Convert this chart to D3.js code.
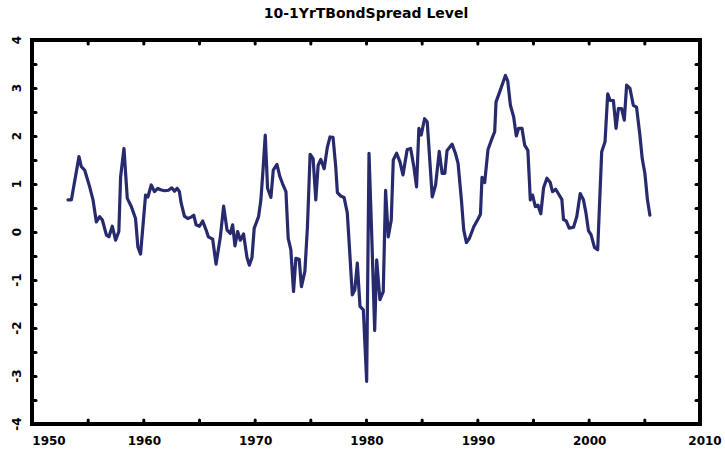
<!DOCTYPE html>
<html>
<head>
<meta charset="utf-8">
<script src="https://cdn.jsdelivr.net/npm/d3@7"></script>
<style>
  body { margin: 0; background: #fff; }
  svg text { font-family: "DejaVu Sans", sans-serif; font-weight: bold; fill: #000; }
</style>
</head>
<body>
<div id="chart"></div>
<script>
// Quarterly-ish readings of the 10-1 year T-bond spread (decimal year, level)
const years = [
  1953.23, 1953.54, 1954.22, 1954.43, 1954.73, 1955.18, 1955.48, 1955.78, 1956.08, 1956.32,
  1956.68, 1956.91, 1957.21, 1957.51, 1957.80, 1957.96, 1958.26, 1958.56, 1958.92, 1959.30,
  1959.51, 1959.75, 1959.96, 1960.20, 1960.41, 1960.71, 1961.00, 1961.30, 1961.54, 1961.90,
  1962.26, 1962.55, 1962.80, 1963.04, 1963.24, 1963.40, 1963.69, 1963.99, 1964.29, 1964.53,
  1964.74, 1965.04, 1965.33, 1965.64, 1965.84, 1966.23, 1966.53, 1966.92, 1967.21, 1967.52,
  1967.81, 1968.02, 1968.23, 1968.47, 1968.71, 1969.00, 1969.31, 1969.52, 1969.76, 1969.96,
  1970.35, 1970.56, 1970.77, 1970.95, 1971.16, 1971.46, 1971.67, 1972.00, 1972.27, 1972.50,
  1972.81, 1973.01, 1973.25, 1973.49, 1973.70, 1974.00, 1974.20, 1974.51, 1974.74, 1974.98,
  1975.25, 1975.49, 1975.70, 1975.94, 1976.24, 1976.53, 1976.77, 1977.04, 1977.28, 1977.43,
  1977.73, 1978.03, 1978.32, 1978.48, 1978.77, 1978.99, 1979.22, 1979.46, 1979.76, 1980.06,
  1980.27, 1980.51, 1980.78, 1980.96, 1981.25, 1981.55, 1981.76, 1982.00, 1982.27, 1982.45,
  1982.75, 1983.05, 1983.32, 1983.70, 1984.01, 1984.30, 1984.54, 1984.75, 1984.96, 1985.26,
  1985.50, 1985.95, 1986.25, 1986.58, 1986.84, 1987.08, 1987.28, 1987.73, 1988.03, 1988.27,
  1988.57, 1988.78, 1989.02, 1989.29, 1989.68, 1990.04, 1990.28, 1990.42, 1990.66, 1990.96,
  1991.32, 1991.56, 1991.68, 1992.01, 1992.31, 1992.52, 1992.73, 1992.97, 1993.26, 1993.50,
  1993.71, 1994.01, 1994.25, 1994.54, 1994.76, 1994.96, 1995.21, 1995.44, 1995.70, 1995.95,
  1996.25, 1996.55, 1996.75, 1997.04, 1997.35, 1997.59, 1997.74, 1997.98, 1998.25, 1998.64,
  1998.93, 1999.24, 1999.53, 1999.74, 1999.98, 2000.22, 2000.52, 2000.81, 2001.17, 2001.47,
  2001.71, 2001.93, 2002.22, 2002.46, 2002.67, 2002.96, 2003.20, 2003.41, 2003.71, 2004.01,
  2004.30, 2004.60, 2004.81, 2005.05, 2005.28, 2005.50
];
const spread = [
  0.67, 0.67, 1.57, 1.36, 1.29, 0.94, 0.67, 0.21, 0.32, 0.25,
  -0.06, -0.10, 0.12, -0.17, 0.01, 1.15, 1.74, 0.70, 0.53, 0.28,
  -0.31, -0.46, 0.11, 0.77, 0.73, 0.98, 0.84, 0.91, 0.88, 0.86,
  0.87, 0.92, 0.85, 0.91, 0.84, 0.60, 0.33, 0.28, 0.31, 0.35,
  0.15, 0.12, 0.23, 0.04, -0.10, -0.15, -0.67, -0.10, 0.54, 0.04,
  -0.03, 0.15, -0.29, 0.01, -0.17, -0.04, -0.53, -0.69, -0.53, 0.08,
  0.32, 0.67, 1.36, 2.02, 0.91, 0.72, 1.29, 1.41, 1.15, 1.01,
  0.84, -0.13, -0.37, -1.24, -0.55, -0.57, -1.14, -0.82, 0.11, 1.62,
  1.53, 0.67, 1.39, 1.51, 1.32, 1.77, 1.98, 1.97, 1.36, 0.82,
  0.75, 0.72, 0.40, -0.20, -1.31, -1.21, -0.65, -1.55, -1.62, -3.11,
  1.64, -0.03, -2.05, -0.58, -1.41, -1.24, 0.87, -0.10, 0.25, 1.50,
  1.64, 1.46, 1.19, 1.72, 1.74, 1.36, 0.94, 2.16, 2.02, 2.36,
  2.29, 0.73, 0.98, 1.68, 1.22, 1.22, 1.70, 1.83, 1.64, 1.43,
  0.67, 0.04, -0.22, -0.13, 0.11, 0.26, 0.37, 1.14, 1.03, 1.72,
  1.95, 2.09, 2.71, 2.92, 3.12, 3.26, 3.15, 2.64, 2.40, 2.00,
  2.16, 2.16, 1.81, 1.70, 0.67, 0.77, 0.53, 0.56, 0.38, 0.92,
  1.12, 1.03, 0.84, 0.89, 0.77, 0.68, 0.26, 0.23, 0.08, 0.10,
  0.32, 0.80, 0.67, 0.42, 0.03, -0.06, -0.32, -0.37, 1.67, 1.88,
  2.88, 2.74, 2.74, 2.16, 2.57, 2.57, 2.33, 3.06, 2.99, 2.64,
  2.60, 2.02, 1.53, 1.22, 0.67, 0.35
];
const xTicks = [1950, 1955, 1960, 1965, 1970, 1975, 1980, 1985, 1990, 1995, 2000, 2005, 2010];
const xLabels = [1950, 1960, 1970, 1980, 1990, 2000, 2010];
const yTicks = [-4, -3.5, -3, -2.5, -2, -1.5, -1, -0.5, 0, 0.5, 1, 1.5, 2, 2.5, 3, 3.5, 4];
const yLabels = [-4, -3, -2, -1, 0, 1, 2, 3, 4];
const title = "10-1YrTBondSpread Level";

const margin = { top: 40, right: 25, bottom: 27, left: 32 };
const width = 725 - margin.left - margin.right;
const height = 451 - margin.top - margin.bottom;

const svg = d3.select("#chart")
  .append("svg")
  .attr("width", width + margin.left + margin.right)
  .attr("height", height + margin.top + margin.bottom)
  .append("g")
  .attr("transform", `translate(${margin.left}, ${margin.top})`);

const data = years.map((y, i) => ({ year: y, value: spread[i] }));

// Scales
const xScale = d3.scaleLinear().domain([1950, 2010]).range([0, width]);
const yScale = d3.scaleLinear().domain([-4, 4]).range([height, 0]);

// Inward ticks on all four sides, no domain lines (frame drawn separately)
const tickStyle = g => {
  g.select(".domain").remove();
  g.selectAll(".tick line")
    .attr("stroke", "#000")
    .attr("stroke-width", 3)
    .attr("stroke-linecap", "round");
  g.selectAll(".tick text").remove();
};

svg.append("g")
  .attr("transform", `translate(0, ${height})`)
  .call(d3.axisBottom(xScale).tickValues(xTicks).tickSize(-4))
  .call(tickStyle);

svg.append("g")
  .call(d3.axisTop(xScale).tickValues(xTicks).tickSize(-4))
  .call(tickStyle);

svg.append("g")
  .call(d3.axisLeft(yScale).tickValues(yTicks).tickSize(-4))
  .call(tickStyle);

svg.append("g")
  .attr("transform", `translate(${width}, 0)`)
  .call(d3.axisRight(yScale).tickValues(yTicks).tickSize(-4))
  .call(tickStyle);

// Line
const line = d3.line()
  .x(d => xScale(d.year))
  .y(d => yScale(d.value));

svg.append("path")
  .datum(data)
  .attr("fill", "none")
  .attr("stroke", "#272a6d")
  .attr("stroke-width", 3.2)
  .attr("stroke-linejoin", "round")
  .attr("stroke-linecap", "round")
  .attr("d", line);

// Frame
svg.append("rect")
  .attr("x", 0)
  .attr("y", 0)
  .attr("width", width)
  .attr("height", height)
  .attr("fill", "none")
  .attr("stroke", "#000")
  .attr("stroke-width", 4);

// X tick labels
svg.selectAll(".xlab")
  .data(xLabels)
  .enter()
  .append("text")
  .attr("class", "xlab")
  .attr("x", d => xScale(d))
  .attr("dx", (d, i) => i === 0 ? 17 : (i === xLabels.length - 1 ? 5 : 1))
  .attr("y", height + 21)
  .attr("text-anchor", "middle")
  .style("font-size", "12px")
  .text(d => d);

// Y tick labels, rotated
svg.selectAll(".ylab")
  .data(yLabels)
  .enter()
  .append("text")
  .attr("class", "ylab")
  .attr("transform", d => `translate(-15, ${yScale(d)}) rotate(-90)`)
  .attr("text-anchor", "middle")
  .attr("dy", "0.35em")
  .style("font-size", "12px")
  .text(d => d3.format("d")(d).replace("\u2212", "-"));

// Title
svg.append("text")
  .attr("x", width / 2)
  .attr("y", -22)
  .attr("text-anchor", "middle")
  .style("font-size", "14px")
  .text(title);
</script>
</body>
</html>
